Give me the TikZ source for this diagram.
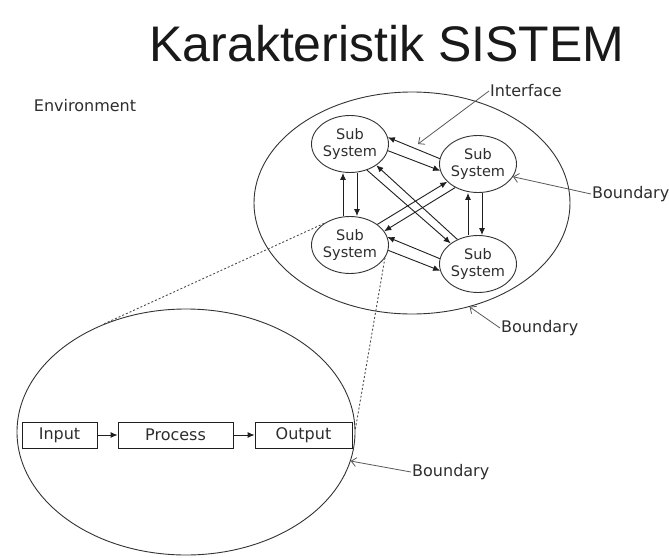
\documentclass[tikz,border=0pt]{standalone}
\usepackage{fontspec}
\setmainfont{DejaVu Sans}
\newfontfamily\titlefont{Liberation Sans}
\usetikzlibrary{shapes.geometric,arrows.meta}
\begin{document}
\begin{tikzpicture}[x=1pt,y=-1pt,
  subsys/.style={ellipse, draw=black!80, line width=0.9pt, minimum width=77pt, minimum height=57pt, inner sep=0pt, align=center, font=\fontsize{14.5}{17}\selectfont, text=black!82},
  flowarrow/.style={-{Latex[length=7pt,width=6pt]}, draw=black!88, line width=0.9pt},
  pointarrow/.style={-{Straight Barb[length=5pt,width=9pt]}, draw=black!65, line width=0.8pt},
  lbltext/.style={font=\fontsize{16}{19}\selectfont, text=black!82, inner sep=1pt},
  procbox/.style={draw=black!88, fill=white, line width=0.9pt, minimum height=26pt, inner sep=0pt, font=\fontsize{16}{19}\selectfont, text=black!82},
  dashlink/.style={draw=black!70, line width=0.9pt, dash pattern=on 2pt off 2pt},
  bound/.style={ellipse, draw=black!80, line width=0.9pt, inner sep=0pt}
]
\fill[white] (0,0) rectangle (669,557);
\useasboundingbox (0,0) rectangle (669,557);

\node[font=\titlefont\fontsize{50}{60}\selectfont, anchor=base, text=black!90, inner sep=0pt] (title) at (387,61) {Karakteristik SISTEM};
\node[lbltext] (envlabel) at (85,106) {Environment};

\node[bound, minimum width=316pt, minimum height=222pt] (env) at (412,203) {};
\node[bound, minimum width=338pt, minimum height=246pt] (sys) at (186,432) {};

\node[subsys] (A) at (350,144) {Sub\\System};
\node[subsys] (B) at (478,164) {Sub\\System};
\node[subsys] (C) at (350,245) {Sub\\System};
\node[subsys] (D) at (478,264) {Sub\\System};

\draw[flowarrow] (B.172) -- (A.10);
\draw[flowarrow] (A.-10) -- (B.190);
\draw[flowarrow] ([xshift=-7pt]C.north) -- ([xshift=-7pt]A.south);
\draw[flowarrow] ([xshift=7pt]A.south) -- ([xshift=7pt]C.north);
\draw[flowarrow] ([xshift=-10pt]D.north) -- ([xshift=-10pt]B.south);
\draw[flowarrow] ([xshift=4pt]B.south) -- ([xshift=4pt]D.north);
\draw[flowarrow] (D.172) -- (C.12);
\draw[flowarrow] (C.-8) -- (D.190);
\draw[flowarrow] (D.130) -- (A.-39);
\draw[flowarrow] (A.-57) -- (D.143);
\draw[flowarrow] (C.37) -- (B.210);
\draw[flowarrow] (B.226) -- (C.22);

\draw[dashlink] (C.140) -- (sys.128);
\draw[dashlink] (C.-20) -- (sys.1);

\node[lbltext, anchor=west] (ifc) at (489,91) {Interface};
\coordinate (ifctip) at (418,144);
\draw[pointarrow] (ifc.west) -- (ifctip);

\node[lbltext, anchor=west] (bnd1) at (591,194) {Boundary};
\draw[pointarrow] (bnd1.west) -- (B.-20);
\node[lbltext, anchor=west] (bnd2) at (500,328) {Boundary};
\draw[pointarrow] (bnd2.west) -- (env.-61);
\node[lbltext, anchor=west] (bnd3) at (411,472) {Boundary};
\draw[pointarrow] (bnd3.west) -- (sys.-10);

\node[procbox, minimum width=75pt] (in) at (59.5,435) {Input};
\node[procbox, minimum width=115pt] (proc) at (175.5,435) {Process};
\node[procbox, minimum width=97pt] (out) at (303.5,435) {Output};
\draw[flowarrow] (in) -- (proc);
\draw[flowarrow] (proc) -- (out);
\end{tikzpicture}
\end{document}
